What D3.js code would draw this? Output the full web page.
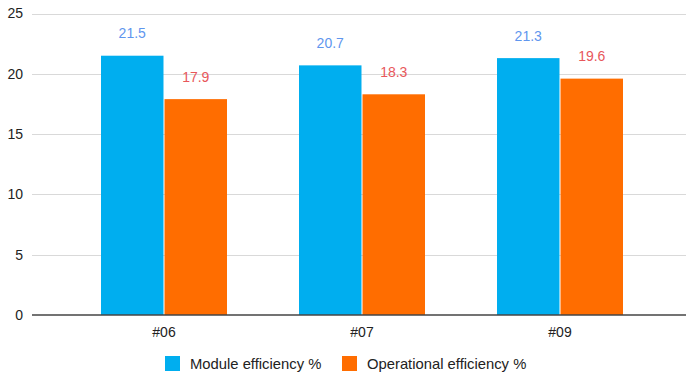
<!DOCTYPE html>
<html>
<head>
<meta charset="utf-8">
<script src="https://cdn.jsdelivr.net/npm/d3@7"></script>
<style>
  html, body { margin: 0; padding: 0; background: #fff; }
  svg { display: block; font-family: "Liberation Sans", Arial, sans-serif; }
</style>
</head>
<body>
<svg id="chart" width="686" height="374"></svg>
<script>
// Panels and measured efficiencies
const categories = ["#06", "#07", "#09"];
const seriesNames = ["Module efficiency %", "Operational efficiency %"];
const moduleEff = [21.5, 20.7, 21.3];
const operationalEff = [17.9, 18.3, 19.6];
const yTicks = [0, 5, 10, 15, 20, 25];

const seriesValues = [moduleEff, operationalEff];
const barColors = ["#00AEEF", "#FF6D00"];
const labelColors = ["#5F96EE", "#E8575B"];

const svg = d3.select("#chart");
const plotLeft = 32, plotRight = 686;

const y = d3.scaleLinear().domain([0, 25]).range([315, 13.5]);
const x0 = d3.scaleBand().domain(categories).range([65, 659]);
const x1 = d3.scaleBand().domain(seriesNames).range([0, 126]).paddingInner(0.016);

// Horizontal gridlines
svg.append("g")
  .selectAll("line")
  .data(yTicks.filter(t => t !== 0))
  .join("line")
  .attr("x1", plotLeft).attr("x2", plotRight)
  .attr("y1", d => Math.round(y(d)) + 0.5).attr("y2", d => Math.round(y(d)) + 0.5)
  .attr("stroke", "#d9d9d9").attr("stroke-width", 1);

// Y axis labels
const yAxis = d3.axisLeft(y).tickValues(yTicks).tickSize(0).tickPadding(0);
const gy = svg.append("g").attr("transform", "translate(23,0)").call(yAxis);
gy.select(".domain").remove();
gy.selectAll("text")
  .attr("fill", "#222")
  .style("font-size", "14px")
  .style("font-family", "'Liberation Sans', Arial, sans-serif");

// Bars
const groups = svg.append("g")
  .selectAll("g")
  .data(categories)
  .join("g")
  .attr("transform", (d) => `translate(${x0(d) + x0.bandwidth() / 2 - 63},0)`);

groups.selectAll("rect")
  .data((d, i) => seriesNames.map((s, k) => ({ s, k, v: seriesValues[k][i] })))
  .join("rect")
  .attr("x", d => x1(d.s))
  .attr("width", x1.bandwidth())
  .attr("y", d => y(d.v))
  .attr("height", d => y(0) - y(d.v))
  .attr("fill", d => barColors[d.k]);

// Value labels
groups.selectAll("text.val")
  .data((d, i) => seriesNames.map((s, k) => ({ s, k, v: seriesValues[k][i] })))
  .join("text")
  .attr("class", "val")
  .attr("x", d => x1(d.s) + x1.bandwidth() / 2)
  .attr("y", d => y(d.v) - 17.5)
  .attr("text-anchor", "middle")
  .attr("fill", d => labelColors[d.k])
  .style("font-size", "14px")
  .text(d => d.v.toFixed(1));

// Baseline
svg.append("line")
  .attr("x1", plotLeft).attr("x2", plotRight)
  .attr("y1", y(0)).attr("y2", y(0))
  .attr("stroke", "#444").attr("stroke-width", 1.3);

// X axis labels
const xAxis = d3.axisBottom(x0).tickSize(0).tickPadding(0);
const gx = svg.append("g").attr("transform", "translate(0,327)").call(xAxis);
gx.select(".domain").remove();
gx.selectAll("text")
  .attr("fill", "#222")
  .style("font-size", "14px")
  .style("font-family", "'Liberation Sans', Arial, sans-serif");

// Legend
const legendX = [165, 342];
const legend = svg.append("g")
  .selectAll("g")
  .data(seriesNames)
  .join("g")
  .attr("transform", (d, i) => `translate(${legendX[i]},356)`);
legend.append("rect")
  .attr("width", 15).attr("height", 15)
  .attr("fill", (d, i) => barColors[i]);
legend.append("text")
  .attr("x", 25).attr("y", 12.5)
  .attr("fill", "#222")
  .style("font-size", "14.8px")
  .text(d => d);
</script>
</body>
</html>
